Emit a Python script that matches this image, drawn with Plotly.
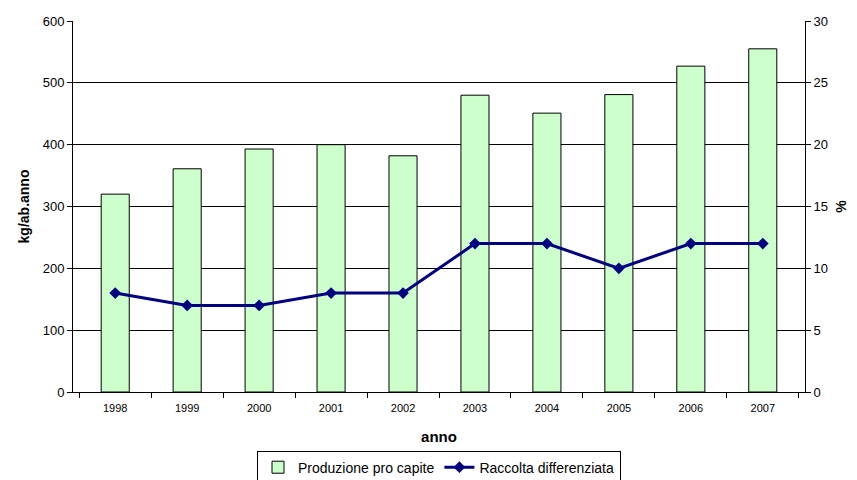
import plotly.graph_objects as go

anni = ["1998", "1999", "2000", "2001", "2002", "2003", "2004", "2005", "2006", "2007"]
produzione = [320, 361, 393, 400, 382, 480, 451, 481, 527, 555]
raccolta = [8, 7, 7, 8, 8, 12, 12, 10, 12, 12]

font_family = "Liberation Sans, Arial, sans-serif"

fig = go.Figure()
fig.add_trace(go.Bar(
    x=anni, y=produzione, name="Produzione pro capite",
    marker=dict(color="#CCFFCC", line=dict(color="black", width=1)),
    yaxis="y",
))
fig.add_trace(go.Scatter(
    x=anni, y=raccolta, name="Raccolta differenziata",
    mode="lines+markers",
    line=dict(color="#000080", width=3),
    marker=dict(symbol="diamond", size=9, color="#000080"),
    yaxis="y2",
))

fig.update_layout(
    width=857, height=480,
    paper_bgcolor="white", plot_bgcolor="white",
    font=dict(family=font_family, color="black", size=12),
    margin=dict(l=73, r=52, t=21, b=88, autoexpand=False),
    bargap=0.61,
    showlegend=True,
    legend=dict(
        orientation="h", x=0.5, xanchor="center", y=-0.158, yanchor="top",
        bordercolor="black", borderwidth=1, font=dict(size=14),
        itemwidth=30, tracegroupgap=0,
    ),
    xaxis=dict(
        type="category", tickson="boundaries", ticks="outside", ticklen=5,
        tickcolor="black", showline=True, linecolor="black", linewidth=1,
        tickfont=dict(size=11, color="black"), showgrid=False, automargin=False,
        ticklabelstandoff=6,
        title=dict(text="<b>anno</b>", font=dict(size=15), standoff=18),
    ),
    yaxis=dict(
        range=[0, 600], dtick=100, ticks="outside", ticklen=5, tickcolor="black",
        showline=True, linecolor="black", showgrid=True, gridcolor="black",
        gridwidth=1, zeroline=False, tickfont=dict(size=13), automargin=False,
        title=dict(text="<b>kg/ab.anno</b>", font=dict(size=14), standoff=9),
    ),
    yaxis2=dict(
        range=[0, 30], dtick=5, overlaying="y", side="right",
        ticks="outside", ticklen=5, tickcolor="black",
        showline=True, linecolor="black", showgrid=False, zeroline=False,
        tickfont=dict(size=13), automargin=False,
        title=dict(text="<b>%</b>", font=dict(size=14), standoff=9),
    ),
)

fig.write_html("out.html", config={"displayModeBar": False},
               post_script="document.body.style.margin='0';")
